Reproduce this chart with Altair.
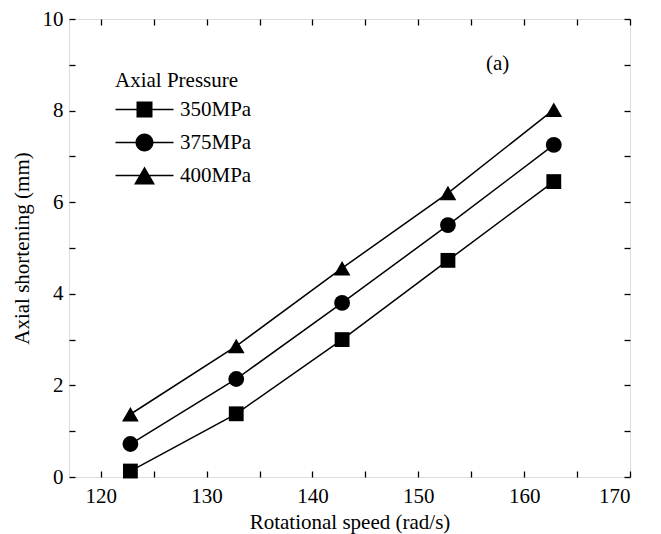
import altair as alt
import pandas as pd

speed = [122.8, 132.8, 142.8, 152.8, 162.8]
series_names = ["350MPa", "375MPa", "400MPa"]
shortening_350 = [0.13, 1.38, 3.0, 4.73, 6.45]
shortening_375 = [0.72, 2.14, 3.8, 5.5, 7.25]
shortening_400 = [1.37, 2.86, 4.56, 6.2, 8.02]

x_ticks = [120, 125, 130, 135, 140, 145, 150, 155, 160, 165, 170]
y_ticks = [0, 1, 2, 3, 4, 5, 6, 7, 8, 9, 10]

annot_x = [157.5]
annot_y = [9.02]
annot_text = ["(a)"]

rows = []
for name, vals in zip(series_names, [shortening_350, shortening_375, shortening_400]):
    for s, v in zip(speed, vals):
        rows.append({"speed": s, "short": v, "series": name})
df = pd.DataFrame(rows)
ann = pd.DataFrame({"x": annot_x, "y": annot_y, "t": annot_text})

FONT = "Liberation Serif"
FS = 21
xs = alt.Scale(domain=[117, 170], nice=False, zero=False)
ys = alt.Scale(domain=[0, 10], nice=False)

plot_shapes = ["square", "circle", "triangle-up"]
LINE = "M-29,-0.8H29V0.8H-29Z"
legend_shapes = [
    LINE + "M-8,-8H8V8H-8Z",
    LINE + "M9,0A9,9,0,1,1,-9,0A9,9,0,1,1,9,0Z",
    LINE + "M0,-9L10.5,9H-10.5Z",
]

x_bottom = alt.X("speed:Q", scale=xs, title="Rotational speed (rad/s)",
                 axis=alt.Axis(orient="bottom", values=x_ticks, offset=-6, tickSize=6,
                               domain=False, grid=False, tickColor="black", tickWidth=1.3,
                               labelExpr="datum.value % 10 === 0 ? datum.label : ''",
                               labelFont=FONT, labelFontSize=FS, labelColor="black",
                               labelPadding=8, titleFont=FONT, titleFontSize=FS,
                               titleFontWeight="normal", titleColor="black", titlePadding=5))
y_left = alt.Y("short:Q", scale=ys, title="Axial shortening (mm)",
               axis=alt.Axis(orient="left", values=y_ticks, offset=-6, tickSize=6,
                             domain=False, grid=False, tickColor="black", tickWidth=1.3,
                             labelExpr="datum.value % 2 === 0 ? datum.label : ''",
                             labelFont=FONT, labelFontSize=FS, labelColor="black",
                             labelPadding=6, titleFont=FONT, titleFontSize=FS,
                             titleFontWeight="normal", titleColor="black", titlePadding=10))
x_top = alt.X("speed:Q", scale=xs, title=None,
              axis=alt.Axis(orient="top", values=x_ticks, offset=-6, tickSize=6,
                            domain=False, grid=False, labels=False, tickColor="black",
                            tickWidth=1.3))
y_right = alt.Y("short:Q", scale=ys, title=None,
                axis=alt.Axis(orient="right", values=y_ticks, offset=-6, tickSize=6,
                              domain=False, grid=False, labels=False, tickColor="black",
                              tickWidth=1.3))

base = alt.Chart(df)

lines = base.mark_line(color="black", strokeWidth=1.5).encode(
    x=x_bottom, y=y_left, detail="series:N")

points = base.mark_point(filled=True, color="black", opacity=1).encode(
    x=alt.X("speed:Q", scale=xs, axis=None),
    y=alt.Y("short:Q", scale=ys, axis=None),
    shape=alt.Shape("series:N", scale=alt.Scale(domain=series_names, range=plot_shapes),
                    legend=None),
    size=alt.Size("series:N", scale=alt.Scale(domain=series_names, range=[220, 280, 400]),
                  legend=None),
)

legend_layer = base.mark_point(filled=True, color="black", opacity=0).encode(
    x=x_top, y=y_right,
    shape=alt.Shape("series:N", scale=alt.Scale(domain=series_names, range=legend_shapes),
                    legend=alt.Legend(title="Axial Pressure", orient="none",
                                      legendX=46, legendY=51,
                                      titleFont=FONT, titleFontSize=FS,
                                      titleFontWeight="normal", titleColor="black",
                                      titlePadding=8,
                                      labelFont=FONT, labelFontSize=FS, labelColor="black",
                                      symbolSize=4, symbolOpacity=1,
                                      symbolFillColor="black", symbolStrokeColor="black",
                                      symbolStrokeWidth=0, symbolOffset=19,
                                      labelOffset=25, rowPadding=11)),
)

text = alt.Chart(ann).mark_text(font=FONT, fontSize=FS, color="black",
                                baseline="middle", align="center").encode(
    x=alt.X("x:Q", scale=xs, axis=None), y=alt.Y("y:Q", scale=ys, axis=None), text="t:N")

chart = alt.layer(lines, points, legend_layer, text).resolve_scale(
    shape="independent", size="independent"
).resolve_axis(x="independent", y="independent").properties(
    width=561, height=458,
    autosize=alt.AutoSizeParams(type="none"),
    padding={"left": 69, "top": 19, "right": 31, "bottom": 57},
).configure_view(stroke="black", strokeWidth=1.5).configure(background="white")

chart.save("out.html", embed_options={"renderer": "svg", "actions": False})
